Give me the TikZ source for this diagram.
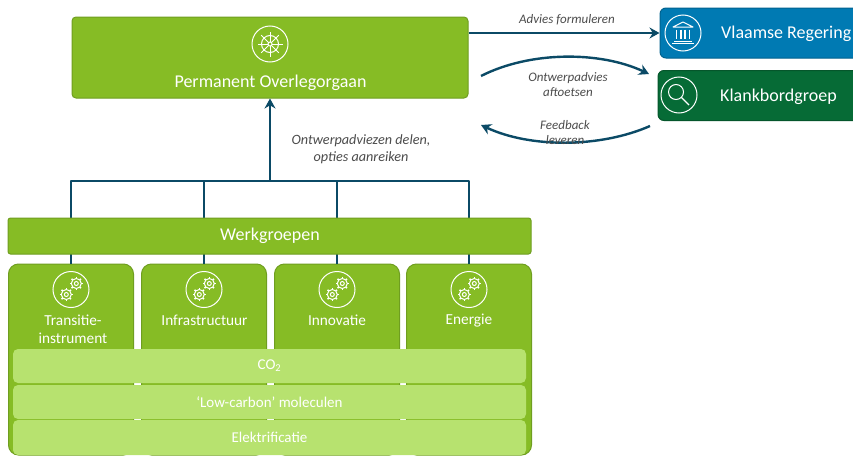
\documentclass[tikz,border=0pt]{standalone}
\usepackage{fontspec}
\setmainfont{Carlito}
\usetikzlibrary{positioning,arrows.meta}
\definecolor{kgreen}{HTML}{86BC25}
\definecolor{kedge}{HTML}{6F9E20}
\definecolor{klight}{HTML}{B7E26F}
\definecolor{kblue}{HTML}{007AB3}
\definecolor{kforest}{HTML}{066B36}
\definecolor{kline}{HTML}{0B4A66}
\tikzset{
  orgbox/.style={draw=kedge,line width=1pt,fill=kgreen,rounded corners=4pt,inner sep=0pt},
  colbox/.style={orgbox,rounded corners=10pt,minimum width=125pt,minimum height=191pt},
  barbox/.style={fill=klight,rounded corners=5pt,minimum width=513pt,inner sep=0pt,text=white,font=\fontsize{15}{16}\selectfont},
  lbl/.style={text=white,align=center,inner sep=0pt,font=\fontsize{18}{20}\selectfont},
  collbl/.style={lbl,font=\fontsize{15.3}{18}\selectfont},
  note/.style={text=black!70,align=center,inner sep=0pt,font=\itshape\fontsize{13}{15.5}\selectfont},
  link/.style={draw=kline,line width=2.4pt},
  tip/.style={-{Stealth[length=10pt,width=11pt]}},
  ring/.style={draw=white,line width=1pt},
  pics/gearpair/.style={code={
    \draw[ring] (0,0) circle (18);
    \foreach \cx/\cy in {-4.7/5,5.3/-6}{
      \draw[ring] (\cx,\cy) circle (5) (\cx,\cy) circle (2);
      \foreach \a in {0,45,...,315}
        \draw[ring,line width=1.5pt] (\cx,\cy) ++(\a:5) -- ++(\a:1.6);
    }
  }},
  pics/wheel/.style={code={
    \draw[ring] (0,0) circle (18);
    \draw[ring] (0,0) circle (8.5) (0,0) circle (2);
    \foreach \a in {0,45,...,315}
      \draw[ring] (\a:2) -- (\a:12.5);
  }},
  pics/temple/.style={code={
    \draw[ring] (0,0) circle (18);
    \draw[ring,line join=round] (-10,-6) -- (0,-11) -- (10,-6) -- cycle;
    \foreach \x in {-6.5,-2.2,2.2,6.5}
      \draw[ring,line width=1.5pt] (\x,-3.5) -- (\x,6);
    \draw[ring] (-9,8) -- (9,8);
    \draw[ring,line width=1.4pt] (-11,10.5) -- (11,10.5);
  }},
  pics/lens/.style={code={
    \draw[ring] (0,0) circle (18);
    \draw[ring] (-3,-3) circle (7.5);
    \draw[ring,line width=1.3pt] (2.4,2.4) -- (10,10);
  }}
}
\begin{document}
\begin{tikzpicture}[x=1pt,y=-1pt]
  \clip (0,0) rectangle (853,455);
  \fill[white] (0,0) rectangle (853,455);
  % top row
  \node [orgbox,minimum width=396pt,minimum height=81pt] (perm) at (270,57.5) {};
  \pic at (270,44) {wheel};
  \node [lbl] (permtext) at (270.5,83) {Permanent Overlegorgaan};
  \node [orgbox,draw=kblue!80!black,fill=kblue,rounded corners=6pt,minimum width=205pt,minimum height=50pt] (vr) at (762.5,33) {};
  \pic at (683,33) {temple};
  \node [lbl,anchor=west] (vrtext) at (721,33.5) {Vlaamse Regering};
  \node [orgbox,draw=kforest!80!black,fill=kforest,rounded corners=6pt,minimum width=205pt,minimum height=50pt] (kb) at (760.5,95.5) {};
  \pic at (679,95) {lens};
  \node [lbl,anchor=west] (kbtext) at (720,96.5) {Klankbordgroep};
  % working groups
  \node [colbox] (col1) at (71,359.5) {};
  \node [colbox] (col2) at (204,359.5) {};
  \node [colbox] (col3) at (337,359.5) {};
  \node [colbox] (col4) at (469,359.5) {};
  \foreach \c in {1,2,3,4}
    \pic at ([yshift=-26pt]col\c.north) {gearpair};
  \node [collbl] (t1) at (73,329.5) {Transitie-\\instrument};
  \node [collbl] (t2) at (204.5,320.5) {Infrastructuur};
  \node [collbl] (t3) at (337,320.5) {Innovatie};
  \node [collbl] (t4) at (469,320.5) {Energie};
  % connectors
  \coordinate (bus) at (270,181);
  \foreach \c in {1,2,3,4}
    \draw [link,line join=round] (col\c.north) -- (col\c.north |- bus) -- (bus);
  \draw [link,line width=2.8pt,tip] (bus) -- (perm.south);
  \node [orgbox,rounded corners=2.5pt,minimum width=523pt,minimum height=36pt] (werk) at (269.5,236) {};
  \node [lbl] (werktext) at (270,236) {Werkgroepen};
  \node [barbox,minimum height=34pt] (co) at (269.5,366) {CO\textsubscript{2}};
  \node [barbox,minimum height=34pt] (low) at (269.5,402) {‘Low-carbon’ moleculen};
  \node [barbox,minimum height=35pt] (elek) at (269.5,437.5) {Elektrificatie};
  \coordinate (outa) at (481,76);
  \coordinate (ina) at (649,74);
  \coordinate (outb) at (650,126);
  \coordinate (inb) at (481,125);
  \draw [link,line width=2pt,tip] (vr.west -| perm.east) -- (vr.west);
  \draw [link,tip] (outa) .. controls (530,51) and (600,51) .. (ina);
  \draw [link,tip] (outb) .. controls (600,148) and (530,148) .. (inb);
  \node [note] (n1) at (567,20) {Advies formuleren};
  \node [note] (n2) at (568,84.5) {Ontwerpadvies\\aftoetsen};
  \node [note] (n3) at (565,132.5) {Feedback\\leveren};
  \node [note,font=\itshape\fontsize{14.2}{17}\selectfont] (n4) at (361,149) {Ontwerpadviezen delen,\\opties aanreiken};
\end{tikzpicture}
\end{document}
